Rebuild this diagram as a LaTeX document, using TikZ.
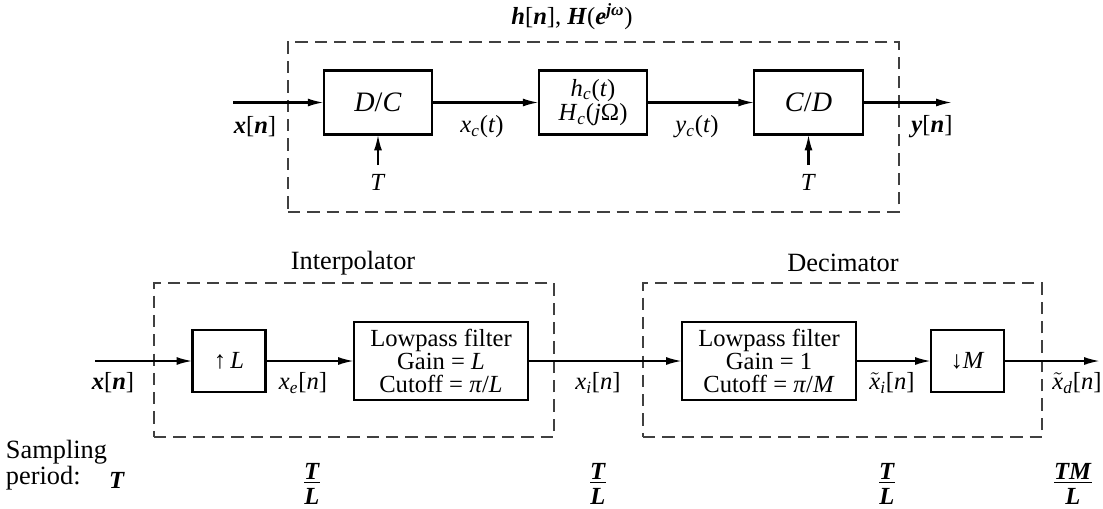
\documentclass[tikz,border=0pt]{standalone}
\usepackage{fontspec}
\setmainfont{Liberation Serif}
\usetikzlibrary{arrows.meta}
\newcommand{\bi}[1]{\textbf{\textit{#1}}}
\newcommand{\tildex}{\ensuremath{\tilde{\hbox{\textit{x}}}}}
\newcommand{\fracstack}[2]{\begin{tabular}{@{}c@{}}#1\\[-3pt]\hline\rule{0pt}{12pt}#2\end{tabular}}
\begin{document}
\begin{tikzpicture}[x=0.02cm,y=-0.02cm,
  every node/.style={inner sep=0pt, outer sep=0pt},
  blk/.style={draw=black, line width=1.4pt, fill=white, align=center, font=\fontsize{14}{13}\selectfont},
  frame/.style={draw=black!75, line width=0.9pt, dash pattern=on 7pt off 4pt},
  sig/.style={line width=1.2pt, -{Latex[length=9pt,width=4.5pt]}},
  lbl/.style={font=\fontsize{14}{16}\selectfont},
  head/.style={font=\fontsize{15}{17}\selectfont},
  per/.style={font=\fontsize{14}{16}\selectfont}]
\useasboundingbox (0,0) rectangle (1103,508);

% ---------- top system ----------
\node[frame, minimum width=12.22cm, minimum height=3.40cm] (topframe) at (593.5,127) {};
\node[lbl] (toplabel) at (572,17) {\bi{h}[\bi{n}], \bi{H}(\bi{e}\textsuperscript{\bi{jω}})};

\node[blk, minimum width=2.17cm, minimum height=1.28cm, font=\fontsize{16}{18}\selectfont] (dc) at (378,102.5) {\textit{D}/\textit{C}};
\node[blk, minimum width=2.17cm, minimum height=1.28cm] (hc) at (593,102.5) {\textit{h}\textsubscript{\textit{c}}(\textit{t})\\[1pt]\textit{H}\textsubscript{\textit{c}}(\textit{j}Ω)};
\node[blk, minimum width=2.17cm, minimum height=1.28cm, font=\fontsize{16}{18}\selectfont] (cd) at (808.5,102.5) {\textit{C}/\textit{D}};

\coordinate (in1) at (233,102.5);
\coordinate (out1) at (952,102.5);
\draw[sig] (in1) -- (dc.west);
\draw[sig] (dc.east) -- (hc.west);
\draw[sig] (hc.east) -- (cd.west);
\draw[sig] (cd.east) -- (out1);

\node[lbl] (xn1) at (255,127) {\bi{x}[\bi{n}]};
\node[lbl] (xct) at (482,127) {\textit{x}\textsubscript{\textit{c}}(\textit{t})};
\node[lbl] (yct) at (697,127) {\textit{y}\textsubscript{\textit{c}}(\textit{t})};
\node[lbl] (yn1) at (932,127) {\bi{y}[\bi{n}]};

\node[lbl, anchor=north] (T1) at (378,174) {\textit{T}};
\node[lbl, anchor=north] (T2) at (808.5,174) {\textit{T}};
\coordinate (t1a) at (378,165);
\coordinate (t2a) at (808.5,165);
\draw[sig] (t1a) -- (dc.south);
\draw[sig] (t2a) -- (cd.south);

% ---------- bottom system ----------
\node[frame, minimum width=8.0cm, minimum height=3.08cm] (interp) at (354,360) {};
\node[frame, minimum width=7.98cm, minimum height=3.08cm] (decim) at (842.5,360) {};
\node[head] (interplbl) at (353,263) {Interpolator};
\node[head] (decimlbl) at (843,263) {Decimator};

\node[blk, minimum width=1.46cm, minimum height=1.24cm] (upL) at (229,361) {\textbf{↑}\,\textit{L}};
\node[blk, minimum width=3.48cm, minimum height=1.56cm] (lp1) at (441,361) {Lowpass filter\\Gain = \textit{L}\\Cutoff = \textit{π}/\textit{L}};
\node[blk, minimum width=3.48cm, minimum height=1.56cm] (lp2) at (769,361) {Lowpass filter\\Gain = 1\\Cutoff = \textit{π}/\textit{M}};
\node[blk, minimum width=1.46cm, minimum height=1.24cm] (dnM) at (967.5,361) {\textbf{↓}\textit{M}};

\coordinate (in2) at (95,361);
\coordinate (out2) at (1100,361);
\draw[sig] (in2) -- (upL.west);
\draw[sig] (upL.east) -- (lp1.west);
\draw[sig] (lp1.east) -- (lp2.west);
\draw[sig] (lp2.east) -- (dnM.west);
\draw[sig] (dnM.east) -- (out2);

\node[lbl] (xn2) at (113,383) {\bi{x}[\bi{n}]};
\node[lbl] (xen) at (303,383) {\textit{x}\textsubscript{\textit{e}}[\textit{n}]};
\node[lbl] (xin) at (598,383) {\textit{x}\textsubscript{\textit{i}}[\textit{n}]};
\node[lbl] (xtin) at (892,383) {\tildex\textsubscript{\textit{i}}[\textit{n}]};
\node[lbl] (xtdn) at (1077,383) {\tildex\textsubscript{\textit{d}}[\textit{n}]};

% ---------- sampling periods ----------
\node[head, align=left, anchor=west, font=\fontsize{15}{12.5}\selectfont] (sp) at (6,465) {Sampling\\period:};
\node[per] (p0) at (117,480) {\bi{T}};
\node[per] (p1) at (312,486) {\fracstack{\bi{T}}{\bi{L}}};
\node[per] (p2) at (598,486) {\fracstack{\bi{T}}{\bi{L}}};
\node[per] (p3) at (887,486) {\fracstack{\bi{T}}{\bi{L}}};
\node[per] (p4) at (1073,486) {\fracstack{\bi{TM}}{\bi{L}}};
\end{tikzpicture}
\end{document}
